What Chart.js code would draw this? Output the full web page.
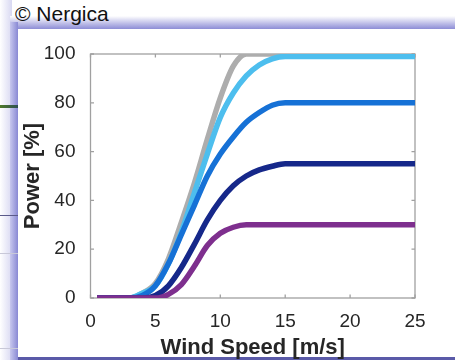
<!DOCTYPE html>
<html>
<head>
<meta charset="utf-8">
<script src="https://cdn.jsdelivr.net/npm/chart.js@4"></script>
<style>
  html, body { margin: 0; padding: 0; background: #fff; }
  #page { position: relative; width: 455px; height: 360px; overflow: hidden; }
  .deco { position: absolute; }
  #canvas { position: absolute; left: 0; top: 0; }
</style>
</head>
<body>
<div id="page">
  <div class="deco" style="left:0;top:0;width:12px;height:360px;background:linear-gradient(to right,#fff,#d8d8f2);"></div>
  <div class="deco" style="left:10px;top:16px;width:445px;height:13px;background:linear-gradient(to bottom,#fff,#8d8dd6);"></div>
  <div class="deco" style="left:10px;top:22px;width:8px;height:338px;background:linear-gradient(to right,#c8c8ee,#8989d4);"></div>
  <div class="deco" style="left:18px;top:29px;width:437px;height:331px;background:#fff;"></div>
  <div class="deco" style="left:0;top:105px;width:18px;height:3px;background:linear-gradient(to right,#4f7a2a,#2e4f52);"></div>
  <div class="deco" style="left:0;top:215px;width:18px;height:1px;background:#5a5a8a;"></div>
  <div class="deco" style="left:0;top:253px;width:18px;height:1px;background:#c8c8d8;"></div>
  <div class="deco" style="left:0;top:348px;width:18px;height:1px;background:#c8c8d8;"></div>
  <div class="deco" style="left:18px;top:357px;width:437px;height:3px;background:#5a5aa8;"></div>
  <div class="deco" style="left:15px;top:2px;font:21px 'Liberation Sans',Arial,sans-serif;color:#111;">© Nergica</div>
  <canvas id="canvas" width="455" height="360"></canvas>
</div>
<script>
// wind speed in m/s
const windSpeed = [0.5, 1, 2, 3, 4, 5, 6, 7, 8, 9, 10, 11, 12, 13, 14, 15, 16, 17, 18, 19, 20, 21, 22, 23, 24, 25];

// power in % of rated
const power100 = [0, 0, 0, 0, 2, 6, 16, 31, 47, 65, 82, 95, 100, 100, 100, 100, 100, 100, 100, 100, 100, 100, 100, 100, 100, 100];
const power99 = [0, 0, 0, 0, 2, 5, 14, 27, 43, 59, 74, 84, 91, 95.5, 98, 99, 99, 99, 99, 99, 99, 99, 99, 99, 99, 99];
const power80 = [0, 0, 0, 0, 1, 5, 14, 26, 38, 50, 59, 66, 72, 76, 79, 80, 80, 80, 80, 80, 80, 80, 80, 80, 80, 80];
const power55 = [0, 0, 0, 0, 0, 1, 5, 12.5, 22, 32, 40, 46, 50, 52.5, 54, 55, 55, 55, 55, 55, 55, 55, 55, 55, 55, 55];
const power30 = [0, 0, 0, 0, 0, 0, 1.5, 5.5, 13, 21.5, 26.5, 29, 30, 30, 30, 30, 30, 30, 30, 30, 30, 30, 30, 30, 30, 30];

const xTicks = [0, 5, 10, 15, 20, 25];
const yTicks = [0, 20, 40, 60, 80, 100];

const toPoints = arr => arr.map((v, i) => ({ x: windSpeed[i], y: v }));

function series(values, color) {
  return {
    data: toPoints(values),
    borderColor: color,
    borderWidth: 5.5,
    pointRadius: 0,
    cubicInterpolationMode: "monotone",
    borderJoinStyle: "round",
    fill: false
  };
}

const fontFamily = "'Liberation Sans', Arial, sans-serif";

// box around plot with inward ticks, like matlab
const boxPlugin = {
  id: "box",
  beforeDatasetsDraw(chart) {
    const { ctx, chartArea: a, scales } = chart;
    ctx.save();
    ctx.strokeStyle = "#a0a0a0";
    ctx.lineWidth = 1.3;
    ctx.strokeRect(a.left, a.top, a.right - a.left, a.bottom - a.top);
    ctx.beginPath();
    xTicks.forEach(t => {
      const px = scales.x.getPixelForValue(t);
      ctx.moveTo(px, a.bottom); ctx.lineTo(px, a.bottom - 3.5);
      ctx.moveTo(px, a.top); ctx.lineTo(px, a.top + 3.5);
    });
    yTicks.forEach(t => {
      const py = scales.y.getPixelForValue(t);
      ctx.moveTo(a.left, py); ctx.lineTo(a.left + 3.5, py);
      ctx.moveTo(a.right, py); ctx.lineTo(a.right - 3.5, py);
    });
    ctx.stroke();
    ctx.restore();
  }
};

new Chart(document.getElementById("canvas"), {
  type: "line",
  data: {
    datasets: [
      series(power30, "#7e2f8e"),
      series(power55, "#16288a"),
      series(power80, "#1671d6"),
      series(power99, "#4dbeee"),
      series(power100, "#adadad")
    ]
  },
  options: {
    responsive: false,
    animation: false,
    layout: { padding: { top: 54, right: 40, left: 0, bottom: 0 } },
    plugins: { legend: { display: false }, tooltip: { enabled: false } },
    scales: {
      x: {
        type: "linear",
        min: 0,
        max: 25,
        afterBuildTicks: s => { s.ticks = xTicks.map(v => ({ value: v })); },
        afterFit: s => { s.height = 62; },
        grid: { display: false },
        border: { display: false },
        ticks: { color: "#262626", font: { family: fontFamily, size: 19 }, padding: 4, maxRotation: 0 },
        title: { display: true, text: "Wind Speed [m/s]", color: "#262626", font: { family: fontFamily, size: 22, weight: "bold" }, padding: { top: 0, bottom: -1 } }
      },
      y: {
        min: 0,
        max: 100,
        afterBuildTicks: s => { s.ticks = yTicks.map(v => ({ value: v })); },
        afterFit: s => { s.width = 90.5; },
        grid: { display: false },
        border: { display: false },
        ticks: { color: "#262626", font: { family: fontFamily, size: 19 }, padding: 7 },
        title: { display: true, text: "Power [%]", color: "#262626", font: { family: fontFamily, size: 22, weight: "bold" }, padding: { top: 20, bottom: 0 } }
      }
    }
  },
  plugins: [boxPlugin]
});
</script>
</body>
</html>
